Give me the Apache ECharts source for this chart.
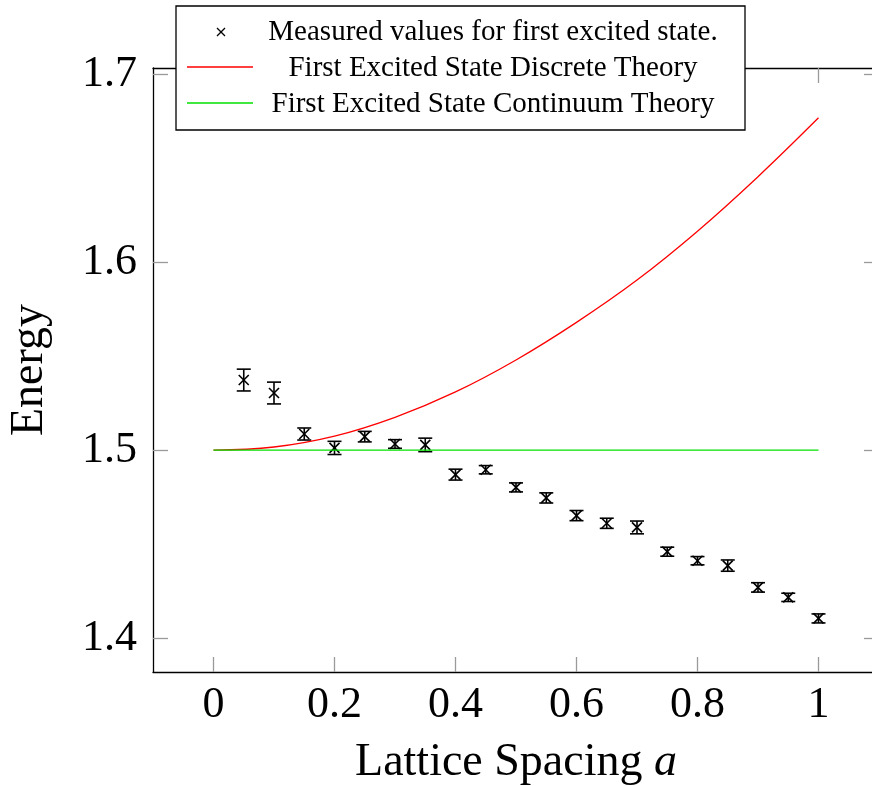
<!DOCTYPE html>
<html>
<head>
<meta charset="utf-8">
<script src="https://cdn.jsdelivr.net/npm/echarts@6/dist/echarts.min.js"></script>
<style>
  html, body { margin: 0; padding: 0; background: #ffffff; }
  #chart { width: 872px; height: 786px; }
</style>
</head>
<body>
<div id="chart"></div>
<script>
// Measured first-excited-state energies with their statistical errors
const spacing = [0.05, 0.10, 0.15, 0.20, 0.25, 0.30, 0.35, 0.40, 0.45, 0.50,
                 0.55, 0.60, 0.65, 0.70, 0.75, 0.80, 0.85, 0.90, 0.95, 1.00];
const energy = [1.5373, 1.5304, 1.5086, 1.5012, 1.5072, 1.5033, 1.5028, 1.4870, 1.4896, 1.4802,
                1.4746, 1.4652, 1.4611, 1.4589, 1.4460, 1.4412, 1.4386, 1.4270, 1.4217, 1.4105];
const energyErr = [0.0058, 0.0058, 0.0032, 0.0035, 0.0028, 0.0023, 0.0036, 0.0029, 0.0022, 0.0024,
                   0.0027, 0.0027, 0.0027, 0.0034, 0.0024, 0.0022, 0.0030, 0.0025, 0.0022, 0.0024];

// Discrete-lattice prediction
const discreteA = [0, 0.1, 0.2, 0.3, 0.4, 0.5, 0.6, 0.7, 0.8, 0.9, 1.0];
const discreteE = [1.5, 1.5017, 1.5075, 1.5175, 1.531, 1.548, 1.568, 1.5905, 1.6165, 1.6455, 1.6768];

// Continuum prediction
const continuumA = [0, 1];
const continuumE = [1.5, 1.5];

// Axis ticks
const xTicks = [0, 0.2, 0.4, 0.6, 0.8, 1];
const yTicks = [1.4, 1.5, 1.6, 1.7];

const legendLabels = [
  'Measured values for first excited state.',
  'First Excited State Discrete Theory',
  'First Excited State Continuum Theory'
];

const SERIF = '"Liberation Serif", "DejaVu Serif", serif';
const TICK_COLOR = '#9a9a9a';

function makeXAxis(pos, withLabels) {
  return {
    type: 'value', position: pos, min: -0.1, max: 1.1,
    axisLine: { show: true, onZero: false, lineStyle: { color: '#000', width: 1.3 } },
    axisTick: { show: true, inside: true, length: 15, customValues: xTicks,
                lineStyle: { color: TICK_COLOR, width: 1.3 } },
    axisLabel: { show: withLabels, customValues: xTicks, margin: 11,
                 fontFamily: SERIF, fontSize: 44, color: '#000',
                 formatter: v => String(+(+v).toFixed(1)) },
    splitLine: { show: false },
    name: withLabels ? 'Lattice Spacing {i|a}' : '',
    nameLocation: 'middle', nameGap: 68,
    nameTextStyle: { fontFamily: SERIF, fontSize: 46, color: '#000',
                     rich: { i: { fontFamily: SERIF, fontSize: 46, fontStyle: 'italic', color: '#000' } } }
  };
}

function makeYAxis(pos, withLabels) {
  return {
    type: 'value', position: pos, min: 1.382, max: 1.7033,
    axisLine: { show: true, onZero: false, lineStyle: { color: '#000', width: 1.3 } },
    axisTick: { show: true, inside: true, length: 15, customValues: yTicks,
                lineStyle: { color: TICK_COLOR, width: 1.3 } },
    axisLabel: { show: withLabels, customValues: yTicks, margin: 16,
                 fontFamily: SERIF, fontSize: 44, color: '#000',
                 formatter: v => (+v).toFixed(1) },
    splitLine: { show: false },
    name: withLabels ? 'Energy' : '',
    nameLocation: 'middle', nameGap: 100, nameRotate: 90,
    nameTextStyle: { fontFamily: SERIF, fontSize: 46, color: '#000' }
  };
}

// Error bar with caps and an "x" marker at the measured value
function renderErrorPoint(params, api) {
  const a = api.value(0), e = api.value(1), d = api.value(2);
  const c = api.coord([a, e]);
  const hi = api.coord([a, e + d]);
  const lo = api.coord([a, e - d]);
  const cap = 7, m = 5;
  const st = { stroke: '#000', lineWidth: 1.6 };
  return {
    type: 'group',
    children: [
      { type: 'line', shape: { x1: c[0], y1: hi[1], x2: c[0], y2: lo[1] }, style: st },
      { type: 'line', shape: { x1: c[0] - cap, y1: hi[1], x2: c[0] + cap, y2: hi[1] }, style: st },
      { type: 'line', shape: { x1: c[0] - cap, y1: lo[1], x2: c[0] + cap, y2: lo[1] }, style: st },
      { type: 'line', shape: { x1: c[0] - m, y1: c[1] - m, x2: c[0] + m, y2: c[1] + m }, style: st },
      { type: 'line', shape: { x1: c[0] - m, y1: c[1] + m, x2: c[0] + m, y2: c[1] - m }, style: st }
    ]
  };
}

// Boxed legend with centred entry text
const LX = 176, LY = 6, LW = 569, LH = 124;
const rowY = [32, 68, 104];
const textX = 493;
const legendGraphic = [
  { type: 'rect', z: 100, shape: { x: LX, y: LY, width: LW, height: LH },
    style: { fill: '#fff', stroke: '#000', lineWidth: 1.3 } },
  { type: 'line', z: 101, shape: { x1: 217, y1: rowY[0] - 4, x2: 225, y2: rowY[0] + 4 },
    style: { stroke: '#000', lineWidth: 1.3 } },
  { type: 'line', z: 101, shape: { x1: 217, y1: rowY[0] + 4, x2: 225, y2: rowY[0] - 4 },
    style: { stroke: '#000', lineWidth: 1.3 } },
  { type: 'line', z: 101, shape: { x1: 187, y1: rowY[1] - 1, x2: 253, y2: rowY[1] - 1 },
    style: { stroke: '#ff0000', lineWidth: 1.3 } },
  { type: 'line', z: 101, shape: { x1: 187, y1: rowY[2] - 1, x2: 253, y2: rowY[2] - 1 },
    style: { stroke: '#00e000', lineWidth: 1.3 } }
].concat(legendLabels.map((t, i) => ({
  type: 'text', z: 101, x: textX, y: rowY[i],
  style: { text: t, fill: '#000', font: '29px ' + SERIF, textAlign: 'center', textVerticalAlign: 'middle' }
})));

const chart = echarts.init(document.getElementById('chart'), null, { renderer: 'canvas' });
chart.setOption({
  backgroundColor: '#ffffff',
  animation: false,
  grid: { left: 153, top: 68, right: -7, bottom: 114, containLabel: false, outerBoundsMode: 'none' },
  xAxis: [makeXAxis('bottom', true), makeXAxis('top', false)],
  yAxis: [makeYAxis('left', true), makeYAxis('right', false)],
  series: [
    {
      name: legendLabels[0], type: 'custom', renderItem: renderErrorPoint,
      data: spacing.map((a, i) => [a, energy[i], energyErr[i]]),
      encode: { x: 0, y: 1 }, z: 2
    },
    {
      name: legendLabels[1], type: 'line', smooth: 0.4, showSymbol: false,
      data: discreteA.map((a, i) => [a, discreteE[i]]),
      lineStyle: { color: '#ff0000', width: 1.3 }, z: 3
    },
    {
      name: legendLabels[2], type: 'line', showSymbol: false,
      data: continuumA.map((a, i) => [a, continuumE[i]]),
      lineStyle: { color: '#00e000', width: 1.3 }, z: 4
    }
  ],
  graphic: legendGraphic
});
</script>
</body>
</html>
